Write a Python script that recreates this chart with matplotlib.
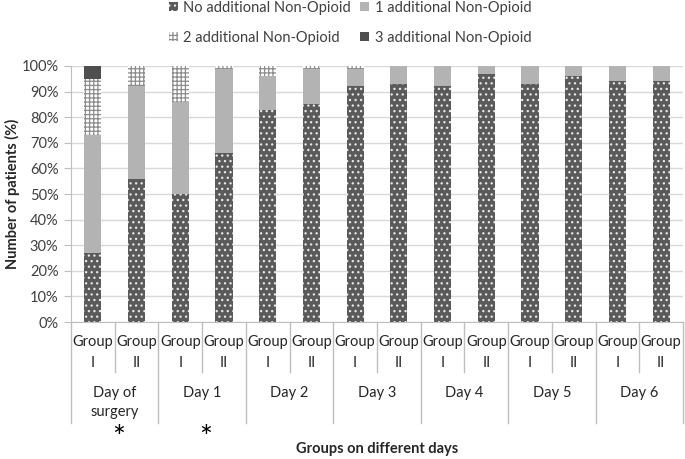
import matplotlib
matplotlib.use("Agg")
import matplotlib.pyplot as plt
from matplotlib.lines import Line2D
from matplotlib.transforms import blended_transform_factory
import numpy as np

plt.rcParams['font.family'] = ['Lato', 'DejaVu Sans']
plt.rcParams['hatch.linewidth'] = 0.9

days = ["Day of\nsurgery", "Day 1", "Day 2", "Day 3", "Day 4", "Day 5", "Day 6"]
groups = ["Group\nI", "Group\nII"]
significant = [True, True, False, False, False, False, False]

# order: G1 D0, G2 D0, G1 D1, G2 D1, ...
no_add = [27, 56, 50, 66, 83, 85, 92, 93, 92, 97, 93, 96, 94, 94]
one_add = [46, 36, 36, 33, 13, 14, 7, 7, 8, 3, 7, 4, 6, 6]
two_add = [22, 8, 14, 1, 4, 1, 1, 0, 0, 0, 0, 0, 0, 0]
three_add = [5, 0, 0, 0, 0, 0, 0, 0, 0, 0, 0, 0, 0, 0]

series_labels = ["No additional Non-Opioid", "1 additional Non-Opioid",
                 "2 additional Non-Opioid", "3 additional Non-Opioid"]

W, H = 685, 459
fig = plt.figure(figsize=(W / 100, H / 100), dpi=100)
ax = fig.add_axes([71 / W, 1 - 322 / H, (683 - 71) / W, (322 - 66) / H])

x = np.arange(len(no_add))
bw = 0.39
vals = [np.array(v) / 100 for v in (no_add, one_add, two_add, three_add)]
styles = [
    dict(facecolor="#5a5a5a", edgecolor="#e8e8e8", hatch="...", linewidth=0),
    dict(facecolor="#b3b3b3", edgecolor="#b3b3b3", linewidth=0),
    dict(facecolor="white", edgecolor="#8c8c8c", hatch="++++", linewidth=0),
    dict(facecolor="#4f4f4f", edgecolor="#4f4f4f", linewidth=0),
]
bottom = np.zeros(len(x))
handles = []
for v, st, lab in zip(vals, styles, series_labels):
    b = ax.bar(x, v, bw, bottom=bottom, label=lab, zorder=3, **st)
    handles.append(b)
    bottom = bottom + v

ax.set_xlim(-0.5, len(x) - 0.5)
ax.set_ylim(0, 1)
ax.set_yticks(np.linspace(0, 1, 11))
ax.set_yticklabels([f"{int(round(t * 100))}%" for t in np.linspace(0, 1, 11)],
                   fontsize=10.5, color="#404040")
ax.yaxis.grid(True, color="#d9d9d9", linewidth=1, zorder=0)
ax.set_axisbelow(True)
ax.tick_params(axis='y', length=5, color="#bfbfbf", pad=4)
ax.set_xticks([])
for s in ["top", "right"]:
    ax.spines[s].set_visible(False)
ax.spines["left"].set_color("#bfbfbf")
ax.spines["bottom"].set_color("#bfbfbf")

fig.text(12 / W, 1 - 194 / H, "Number of patients (%)", rotation=90,
         ha="center", va="center", fontsize=10.5, fontweight="bold",
         color="#262626")

tr = blended_transform_factory(ax.transData, fig.transFigure)
y_axis = 1 - 322 / H
# group labels
for i in range(len(x)):
    g = groups[i % 2].split("\n")
    ax.text(i, 1 - 342 / H, g[0], transform=tr, ha="center", va="center",
            fontsize=10.5, color="#262626")
    ax.text(i, 1 - 363 / H, g[1], transform=tr, ha="center", va="center",
            fontsize=10.5, color="#262626")
# separators
for k in range(len(x) + 1):
    xb = k - 0.5
    ylow = 1 - 423 / H if k % 2 == 0 else 1 - 372 / H
    ax.add_line(Line2D([xb, xb], [y_axis, ylow], transform=tr, color="#bfbfbf",
                       linewidth=1, clip_on=False))
# day labels
for d, name in enumerate(days):
    cx = 2 * d + 0.5
    lines = name.split("\n")
    for j, ln in enumerate(lines):
        ax.text(cx, 1 - (393 + 19 * j) / H, ln, transform=tr, ha="center",
                va="center", fontsize=10.5, color="#262626")
    if significant[d]:
        ax.text(cx + 0.08, 1 - 438 / H, "*", transform=tr, ha="center",
                va="center", fontsize=22, color="black")

fig.text((71 + 683) / 2 / W, 1 - 449 / H, "Groups on different days",
         ha="center", va="center", fontsize=10.5, fontweight="bold",
         color="#262626")

order = [0, 2, 1, 3]
fig.legend(handles=[handles[i] for i in order],
           labels=[series_labels[i] for i in order], ncol=2,
           loc="upper center",
           bbox_to_anchor=(350 / W, 1.027), frameon=False, fontsize=10.5,
           handlelength=0.6, handleheight=0.6, handletextpad=0.4,
           columnspacing=0.6, labelspacing=1.1, labelcolor="#404040")

fig.savefig("out.png", dpi=100)
